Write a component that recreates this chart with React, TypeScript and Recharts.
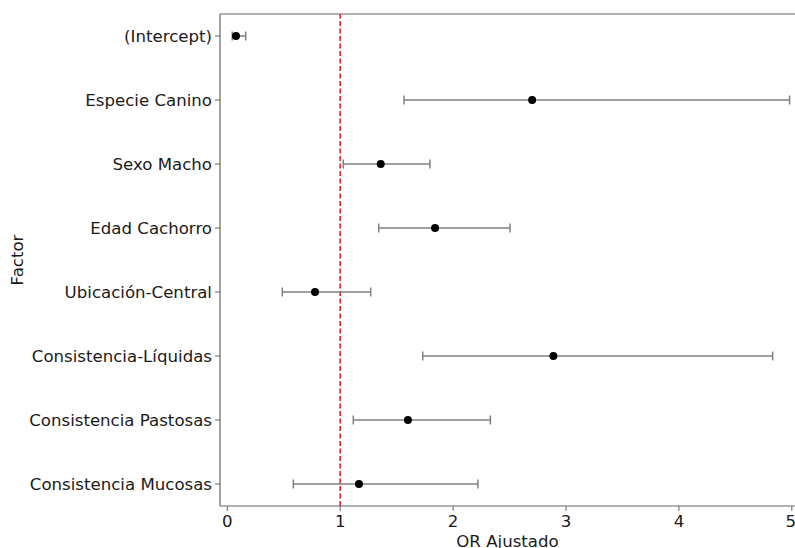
import React from "react";
import {
  ScatterChart,
  Scatter,
  XAxis,
  YAxis,
  ErrorBar,
  ReferenceLine,
} from "recharts";

const factors = [
  "(Intercept)",
  "Especie Canino",
  "Sexo Macho",
  "Edad Cachorro",
  "Ubicación-Central",
  "Consistencia-Líquidas",
  "Consistencia Pastosas",
  "Consistencia Mucosas",
];
const orValues = [0.077, 2.7, 1.359, 1.84, 0.777, 2.888, 1.6, 1.166];
const ciLow = [0.044, 1.565, 1.027, 1.341, 0.487, 1.731, 1.116, 0.585];
const ciHigh = [0.163, 4.98, 1.795, 2.504, 1.27, 4.83, 2.33, 2.22];
const xTicks = [0, 1, 2, 3, 4, 5];

const data = factors.map((f, i) => ({
  idx: i,
  factor: f,
  or: orValues[i],
  err: [orValues[i] - ciLow[i], ciHigh[i] - orValues[i]],
}));

const FONT = "'DejaVu Sans', sans-serif";
const SPINE = "#666666";
const X_DOMAIN: [number, number] = [-0.0646, 5.028];
const Y_DOMAIN: [number, number] = [-0.344, 7.344];

const Dot = (props: any) => {
  const { cx, cy } = props;
  return <circle cx={cx} cy={cy} r={4} fill="#000" />;
};

export default function App() {
  return (
    <div style={{ position: "absolute", left: 0, top: 0, width: 795, height: 548, overflow: "hidden", background: "#fff" }}>
      <ScatterChart
        width={795}
        height={548}
        margin={{ top: 14, right: 0, bottom: 0, left: 0 }}
        style={{ fontFamily: FONT }}
      >
        <XAxis
          type="number"
          dataKey="or"
          domain={X_DOMAIN}
          allowDataOverflow
          ticks={xTicks}
          height={42}
          tickSize={5}
          tickMargin={4}
          axisLine={{ stroke: SPINE, strokeWidth: 1.2 }}
          tickLine={{ stroke: SPINE }}
          tick={{ fill: "#1a1a1a", fontSize: 16.6, fontFamily: FONT }}
          label={{ value: "OR Ajustado", position: "insideBottom", offset: 1, fill: "#1a1a1a", fontSize: 16.6, fontFamily: FONT }}
        />
        <YAxis
          type="number"
          dataKey="idx"
          domain={Y_DOMAIN}
          reversed
          ticks={factors.map((_, i) => i)}
          tickFormatter={(v: number) => factors[v] ?? ""}
          interval={0}
          width={220}
          tickSize={5}
          tickMargin={3}
          axisLine={{ stroke: SPINE, strokeWidth: 1.2 }}
          tickLine={{ stroke: SPINE }}
          tick={{ fill: "#1a1a1a", fontSize: 16.6, fontFamily: FONT }}
          label={{ value: "Factor", angle: -90, position: "insideLeft", offset: 17, fill: "#1a1a1a", fontSize: 16.6, fontFamily: FONT, style: { textAnchor: "middle" } }}
        />
        <ReferenceLine y={Y_DOMAIN[0]} stroke={SPINE} strokeWidth={1.2} ifOverflow="visible" />
        <ReferenceLine x={1} stroke="#e8141e" strokeWidth={1.5} strokeDasharray="5 2.5" />
        <Scatter data={data} shape={<Dot />} isAnimationActive={false}>
          <ErrorBar dataKey="err" direction="x" width={4.5} stroke="#808080" strokeWidth={1.5} />
        </Scatter>
      </ScatterChart>
    </div>
  );
}
